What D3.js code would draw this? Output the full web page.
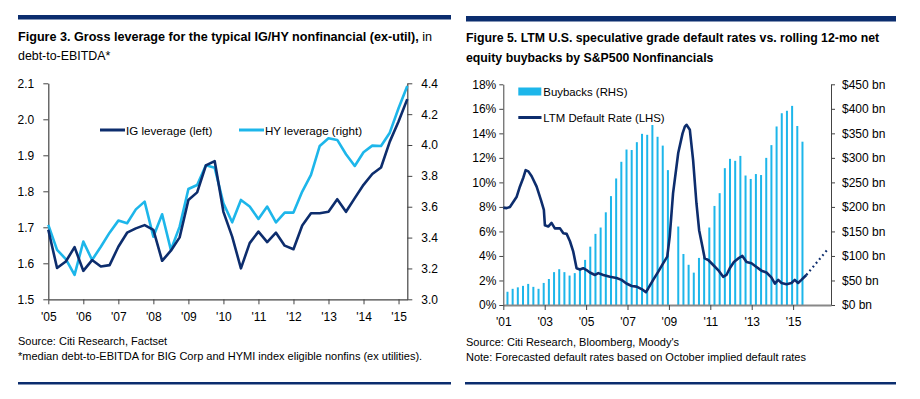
<!DOCTYPE html>
<html>
<head>
<meta charset="utf-8">
<script src="https://cdn.jsdelivr.net/npm/d3@7"></script>
<style>
  body { margin: 0; background: #fff; }
  svg { display: block; }
  text { font-family: "Liberation Sans", Arial, sans-serif; fill: #000; }
</style>
</head>
<body>
<svg id="chart" width="920" height="399"></svg>
<script>
// ---- Figure 3: gross leverage, quarterly ----
var levQuarters = ["2005Q1","2005Q2","2005Q3","2005Q4","2006Q1","2006Q2","2006Q3","2006Q4",
  "2007Q1","2007Q2","2007Q3","2007Q4","2008Q1","2008Q2","2008Q3","2008Q4",
  "2009Q1","2009Q2","2009Q3","2009Q4","2010Q1","2010Q2","2010Q3","2010Q4",
  "2011Q1","2011Q2","2011Q3","2011Q4","2012Q1","2012Q2","2012Q3","2012Q4",
  "2013Q1","2013Q2","2013Q3","2013Q4","2014Q1","2014Q2","2014Q3","2014Q4",
  "2015Q1","2015Q2"];
var igLeverage = [1.693,1.587,1.605,1.645,1.579,1.609,1.591,1.595,
  1.646,1.685,1.697,1.706,1.693,1.607,1.635,1.672,
  1.776,1.797,1.872,1.884,1.743,1.674,1.586,1.656,
  1.688,1.659,1.685,1.649,1.639,1.705,1.739,1.739,
  1.743,1.778,1.743,1.781,1.818,1.848,1.866,1.938,
  1.994,2.056];
var hyLeverage = [3.482,3.320,3.261,3.158,3.374,3.255,3.341,3.432,
  3.510,3.493,3.583,3.633,3.406,3.551,3.320,3.471,
  3.715,3.741,3.869,3.853,3.622,3.499,3.644,3.601,
  3.521,3.601,3.499,3.562,3.562,3.698,3.806,3.994,
  4.044,4.033,3.940,3.864,3.953,3.996,3.994,4.080,
  4.238,4.383];
var levYears = [2005,2006,2007,2008,2009,2010,2011,2012,2013,2014,2015];
var levYearLabels = ["'05","'06","'07","'08","'09","'10","'11","'12","'13","'14","'15"];
var igTicks = [1.5,1.6,1.7,1.8,1.9,2.0,2.1];
var hyTicks = [3.0,3.2,3.4,3.6,3.8,4.0,4.2,4.4];

// ---- Figure 5: default rates vs buybacks ----
var buybackQuarters = ["2001Q1","2001Q2","2001Q3","2001Q4","2002Q1","2002Q2","2002Q3","2002Q4",
  "2003Q1","2003Q2","2003Q3","2003Q4","2004Q1","2004Q2","2004Q3","2004Q4",
  "2005Q1","2005Q2","2005Q3","2005Q4","2006Q1","2006Q2","2006Q3","2006Q4",
  "2007Q1","2007Q2","2007Q3","2007Q4","2008Q1","2008Q2","2008Q3","2008Q4",
  "2009Q1","2009Q2","2009Q3","2009Q4","2010Q1","2010Q2","2010Q3","2010Q4",
  "2011Q1","2011Q2","2011Q3","2011Q4","2012Q1","2012Q2","2012Q3","2012Q4",
  "2013Q1","2013Q2","2013Q3","2013Q4","2014Q1","2014Q2","2014Q3","2014Q4",
  "2015Q1","2015Q2"];
var buybacks = [27,33,36,39,43,37,33,45,53,67,73,67,60,65,74,92,
  119,145,158,189,222,258,292,317,316,332,349,347,367,343,325,275,
  null,160,104,82,66,96,98,158,202,228,279,298,294,304,264,257,
  267,265,300,326,364,391,396,406,365,333];
var defaultDates = [2001.00,2001.16,2001.32,2001.48,2001.64,2001.80,2001.97,2002.08,2002.21,2002.37,
  2002.61,2002.82,2002.96,2003.01,2003.17,2003.33,2003.49,2003.74,2003.90,2004.06,
  2004.22,2004.38,2004.54,2004.70,2004.86,2005.02,2005.18,2005.43,2005.59,2005.83,
  2006.15,2006.47,2006.71,2006.95,2007.20,2007.44,2007.68,2007.89,2008.00,2008.24,
  2008.48,2008.72,2008.92,2009.04,2009.20,2009.45,2009.66,2009.77,2009.85,2010.01,
  2010.17,2010.33,2010.46,2010.62,2010.73,2010.90,2011.14,2011.38,2011.62,2011.78,
  2011.94,2012.14,2012.35,2012.55,2012.75,2012.99,2013.23,2013.47,2013.71,2013.95,
  2014.12,2014.28,2014.44,2014.68,2014.92,2015.08,2015.24,2015.40,2015.64];
var defaultRate = [7.94,7.90,8.00,8.40,8.80,9.65,10.40,11.00,10.90,10.50,
  9.65,8.56,7.75,6.50,6.40,6.70,6.25,6.25,5.85,5.80,
  5.20,4.35,3.00,2.90,3.00,2.85,2.65,2.45,2.60,2.45,
  2.30,2.20,2.05,1.75,1.55,1.50,1.30,1.05,1.35,2.05,
  2.70,3.40,3.95,5.60,9.10,12.40,14.00,14.55,14.70,14.30,
  11.80,8.30,6.10,4.75,3.80,3.67,3.26,2.85,2.30,2.45,
  3.00,3.50,3.80,4.00,3.50,3.40,3.10,2.80,2.65,2.25,
  1.75,2.05,1.80,1.70,1.80,2.05,1.80,2.05,2.45];
var forecastDates = [2015.64,2016.65];
var forecastRate = [2.45,4.50];
var rateYears = [2001,2003,2005,2007,2009,2011,2013,2015];
var rateYearLabels = ["'01","'03","'05","'07","'09","'11","'13","'15"];
var rateTicks = [0,2,4,6,8,10,12,14,16,18];
var buybackTicks = [0,50,100,150,200,250,300,350,400,450];

var navy = "#0d2d6d", cyan = "#1db6ea", rule = "#0b2d6e";
var svg = d3.select("#chart");

function qStart(s) { return +s.slice(0,4) + (+s.slice(5) - 1) / 4; }
function qEnd(s) { return +s.slice(0,4) + (+s.slice(5)) / 4; }

function styleAxis(g, color, width) {
  g.select(".domain").attr("stroke", color).attr("stroke-width", width);
  g.selectAll(".tick line").attr("stroke", color);
  g.selectAll(".tick text").attr("font-size", 12).attr("fill", "#000")
    .attr("font-family", '"Liberation Sans", Arial, sans-serif');
}

// ================= Figure 3 =================
svg.append("rect").attr("x", 18).attr("y", 15).attr("width", 433).attr("height", 4.5).attr("fill", rule);
svg.append("rect").attr("x", 18).attr("y", 382).attr("width", 433).attr("height", 2.5).attr("fill", rule);

var t3 = svg.append("text").attr("x", 18).attr("y", 41).attr("font-size", 12.6);
t3.append("tspan").attr("font-weight", "bold").text("Figure 3. Gross leverage for the typical IG/HY nonfinancial (ex-util),");
t3.append("tspan").text(" in");
svg.append("text").attr("x", 18).attr("y", 60).attr("font-size", 12.4).text("debt-to-EBITDA*");

var xL = d3.scaleLinear().domain([2005, 2015.25]).range([48.3, 407.3]);
var yIG = d3.scaleLinear().domain([1.5, 2.1]).range([299.3, 83.3]);
var yHY = d3.scaleLinear().domain([3.0, 4.4]).range([299.3, 83.3]);

var axL = svg.append("g").attr("transform", "translate(48.3,0)")
  .call(d3.axisLeft(yIG).tickValues(igTicks).tickFormat(d3.format(".1f")).tickSize(5).tickSizeOuter(0).tickPadding(9));
styleAxis(axL, "#444", 1.2);
var axR = svg.append("g").attr("transform", "translate(407.3,0)")
  .call(d3.axisRight(yHY).tickValues(hyTicks).tickFormat(d3.format(".1f")).tickSize(5).tickSizeOuter(0).tickPadding(9));
styleAxis(axR, "#444", 1.2);
var axB = svg.append("g").attr("transform", "translate(0,299.3)")
  .call(d3.axisBottom(xL).tickValues(levYears).tickFormat(function(d, i) { return levYearLabels[i]; })
    .tickSize(5).tickSizeOuter(0).tickPadding(8));
styleAxis(axB, "#444", 1.2);

var levRows = levQuarters.map(function(q, i) { return { t: qStart(q), ig: igLeverage[i], hy: hyLeverage[i] }; });
svg.append("path").datum(levRows).attr("fill", "none").attr("stroke", cyan).attr("stroke-width", 2.6)
  .attr("stroke-linejoin", "round")
  .attr("d", d3.line().x(function(d) { return xL(d.t); }).y(function(d) { return yHY(d.hy); }));
svg.append("path").datum(levRows).attr("fill", "none").attr("stroke", navy).attr("stroke-width", 2.6)
  .attr("stroke-linejoin", "round")
  .attr("d", d3.line().x(function(d) { return xL(d.t); }).y(function(d) { return yIG(d.ig); }));

// legend
svg.append("line").attr("x1", 100).attr("x2", 125).attr("y1", 130).attr("y2", 130).attr("stroke", navy).attr("stroke-width", 3);
svg.append("text").attr("x", 126).attr("y", 134.5).attr("font-size", 11.6).text("IG leverage (left)");
svg.append("line").attr("x1", 239).attr("x2", 264).attr("y1", 130).attr("y2", 130).attr("stroke", cyan).attr("stroke-width", 3);
svg.append("text").attr("x", 265).attr("y", 134.5).attr("font-size", 11.6).text("HY leverage (right)");

svg.append("text").attr("x", 18).attr("y", 345).attr("font-size", 11).text("Source: Citi Research, Factset");
svg.append("text").attr("x", 18).attr("y", 359.5).attr("font-size", 11)
  .text("*median debt-to-EBITDA for BIG Corp and HYMI index eligible nonfins (ex utilities).");

// ================= Figure 5 =================
svg.append("rect").attr("x", 466).attr("y", 16).attr("width", 430).attr("height", 5.5).attr("fill", rule);
svg.append("rect").attr("x", 465).attr("y", 382).attr("width", 431).attr("height", 2.5).attr("fill", rule);

svg.append("text").attr("x", 466).attr("y", 42).attr("font-size", 12.3).attr("font-weight", "bold")
  .text("Figure 5. LTM U.S. speculative grade default rates vs. rolling 12-mo net");
svg.append("text").attr("x", 466).attr("y", 62).attr("font-size", 12.3).attr("font-weight", "bold")
  .text("equity buybacks by S&P500 Nonfinancials");

var xR = d3.scaleLinear().domain([2001, 2016.83]).range([503.3, 831]);
var yRate = d3.scaleLinear().domain([0, 18]).range([305, 84.3]);
var yBuy = d3.scaleLinear().domain([0, 450]).range([305, 84.3]);

var buyRows = buybackQuarters.map(function(q, i) { return { t: qEnd(q), v: buybacks[i] }; })
  .filter(function(d) { return d.v != null; });
svg.append("g").selectAll("rect").data(buyRows).enter().append("rect")
  .attr("x", function(d) { return xR(d.t) - 2; })
  .attr("width", 2)
  .attr("y", function(d) { return yBuy(d.v); })
  .attr("height", function(d) { return yBuy(0) - yBuy(d.v); })
  .attr("fill", cyan);

var axRL = svg.append("g").attr("transform", "translate(503.3,0)")
  .call(d3.axisLeft(yRate).tickValues(rateTicks).tickFormat(function(d) { return d + "%"; })
    .tickSize(4).tickSizeOuter(0).tickPadding(3));
styleAxis(axRL, "#444", 1);
var axRR = svg.append("g").attr("transform", "translate(831,0)")
  .call(d3.axisRight(yBuy).tickValues(buybackTicks).tickFormat(function(d) { return "$" + d + " bn"; })
    .tickSize(4).tickSizeOuter(0).tickPadding(7));
styleAxis(axRR, "#444", 1);
var axRB = svg.append("g").attr("transform", "translate(0,305)")
  .call(d3.axisBottom(xR).tickValues(rateYears).tickFormat(function(d, i) { return rateYearLabels[i]; })
    .tickSize(5).tickSizeOuter(0).tickPadding(7));
styleAxis(axRB, "#888", 2);
axRB.selectAll(".tick line").attr("stroke", "#444");

var rateRows = defaultDates.map(function(t, i) { return { t: t, v: defaultRate[i] }; });
var rateLine = d3.line().x(function(d) { return xR(d.t); }).y(function(d) { return yRate(d.v); });
svg.append("path").datum(rateRows).attr("fill", "none").attr("stroke", navy).attr("stroke-width", 2.6)
  .attr("stroke-linejoin", "round").attr("d", rateLine);
var fcRows = forecastDates.map(function(t, i) { return { t: t, v: forecastRate[i] }; });
svg.append("path").datum(fcRows).attr("fill", "none").attr("stroke", navy).attr("stroke-width", 2.2)
  .attr("stroke-dasharray", "1.8,3.2").attr("d", rateLine);

// legend
svg.append("rect").attr("x", 518.3).attr("y", 87.5).attr("width", 23).attr("height", 8).attr("fill", cyan);
svg.append("text").attr("x", 543.3).attr("y", 96).attr("font-size", 11.4).text("Buybacks (RHS)");
svg.append("line").attr("x1", 518.3).attr("x2", 541.5).attr("y1", 117.5).attr("y2", 117.5).attr("stroke", navy).attr("stroke-width", 3);
svg.append("text").attr("x", 543.3).attr("y", 122).attr("font-size", 11.4).text("LTM Default Rate (LHS)");

svg.append("text").attr("x", 466).attr("y", 346).attr("font-size", 11).text("Source: Citi Research, Bloomberg, Moody's");
svg.append("text").attr("x", 466).attr("y", 361).attr("font-size", 11)
  .text("Note: Forecasted default rates based on October implied default rates");
</script>
</body>
</html>
